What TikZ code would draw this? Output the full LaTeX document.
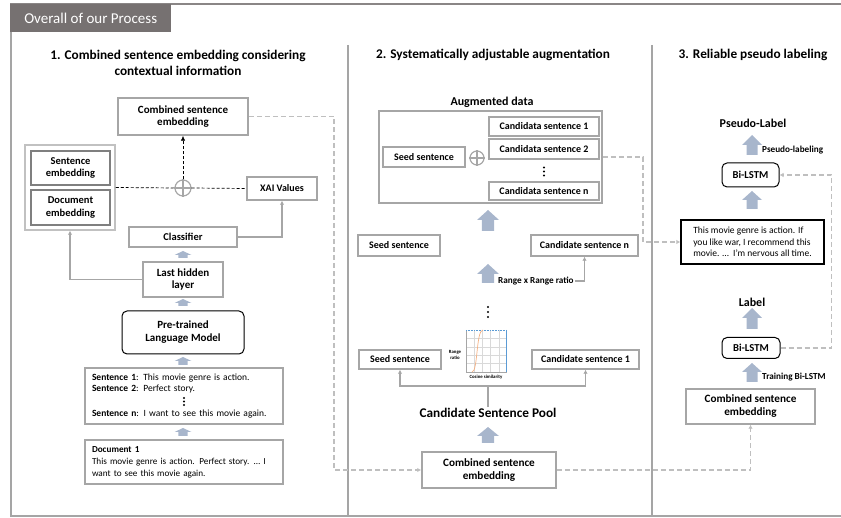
\documentclass[tikz,border=0pt]{standalone}
\usepackage{fontspec}
\setmainfont{Carlito}
\usetikzlibrary{arrows.meta}
\definecolor{boxgray}{RGB}{166,166,166}
\definecolor{darkbox}{RGB}{127,127,127}
\definecolor{framegray}{RGB}{165,165,165}
\definecolor{tabgray}{RGB}{118,113,113}
\definecolor{blockc}{RGB}{168,182,204}
\definecolor{dashgray}{RGB}{191,191,191}
\definecolor{chartblue}{RGB}{91,155,213}
\definecolor{chartorange}{RGB}{244,177,131}
\newcommand{\blkup}[5]{%
  \fill[blockc] ({#1-#4*0.55},#2) -- ({#1-#4*0.55},{#3+#5}) -- ({#1-#4},{#3+#5}) -- (#1,#3)
   -- ({#1+#4},{#3+#5}) -- ({#1+#4*0.55},{#3+#5}) -- ({#1+#4*0.55},#2) -- cycle;}
\tikzset{
  gbox/.style={draw=boxgray, line width=1.5pt, fill=white, align=center, inner sep=0pt,
    font=\bfseries\fontsize{10}{12}\selectfont},
  dbox/.style={gbox, draw=darkbox, font=\bfseries\fontsize{10.5}{12.5}\selectfont},
  rbox/.style={draw=black, line width=1pt, rounded corners=5pt, fill=white, align=center,
    inner sep=0pt, font=\bfseries\fontsize{11}{13}\selectfont},
  tbox/.style={draw=boxgray, line width=1.5pt, fill=white, align=left, inner xsep=7pt,
    inner ysep=0pt, text width=184pt},
  gl/.style={draw=boxgray, line width=1.2pt},
  gdash/.style={draw=dashgray, line width=1.5pt, dash pattern=on 5pt off 3pt},
  kdash/.style={draw=black, line width=0.7pt, dash pattern=on 3pt off 2pt},
  opl/.style={circle, draw=boxgray, line width=1.2pt, minimum size=#1, inner sep=0pt},
  sectitle/.style={font=\bfseries\fontsize{13.3}{16.5}\selectfont, align=center},
  lbl/.style={font=\bfseries\fontsize{12}{14}\selectfont},
  smalllbl/.style={font=\bfseries\fontsize{9.2}{11}\selectfont, inner sep=1pt},
  bigbox/.style={gbox, font=\bfseries\fontsize{11.2}{13}\selectfont},
}
\begin{document}
\begin{tikzpicture}[x=1pt,y=-1pt,>={Latex[length=4pt,width=4.5pt]}]
\useasboundingbox (0,0) rectangle (841,518);
% frame
\draw[framegray, line width=1.2pt] (11,30) -- (11,516) -- (841,516);
\draw[tabgray!85, line width=2pt] (10,4) -- (841,4);
\node[fill=tabgray, minimum width=161, minimum height=28, anchor=north west, inner sep=0pt,
  text=white, font=\fontsize{15}{17}\selectfont] (tab) at (10,4) {Overall of our Process};
\draw[framegray, line width=1.2pt] (348,45) -- (348,516);
\draw[framegray, line width=1.2pt] (652,45) -- (652,516);

% titles
\node[sectitle] (t1) at (178,63) {1. Combined sentence embedding considering\\contextual information};
\node[sectitle] (t2) at (493,55) {2. Systematically adjustable augmentation};
\node[sectitle] (t3) at (753,55) {3. Reliable pseudo labeling};

% ---------- section 1
\node[bigbox, minimum width=130, minimum height=37, font=\bfseries\fontsize{11}{12.5}\selectfont] (cse1) at (183,116.5) {Combined sentence\\embedding};
\node[draw=boxgray!70, line width=1.5pt, minimum width=90, minimum height=85, inner sep=0pt] (grp) at (70,187.5) {};
\node[dbox, minimum width=79, minimum height=34] (sent) at (70.5,168) {Sentence\\embedding};
\node[dbox, minimum width=79, minimum height=35] (doc) at (70.5,207.5) {Document\\embedding};
\node[opl=16] (op1) at (183,188) {};
\draw[boxgray, line width=1.2pt] (op1.north) -- (op1.south) (op1.west) -- (op1.east);
\node[gbox, minimum width=70, minimum height=23] (xai) at (282,188.5) {XAI Values};
\node[gbox, minimum width=108, minimum height=20, font=\bfseries\fontsize{10.5}{12}\selectfont] (clf) at (183,237) {Classifier};
\node[gbox, minimum width=80, minimum height=35, font=\bfseries\fontsize{11}{12.5}\selectfont] (lhl) at (183,279.5) {Last hidden\\layer};
\node[rbox, minimum width=122, minimum height=43] (plm) at (183,332.5) {Pre-trained\\Language Model};
\node[tbox, minimum height=56, font=\fontsize{9.5}{11}\selectfont] (sents) at (184,396)
 {\textbf{Sentence 1}: This movie genre is action.\\
  \textbf{Sentence 2}: Perfect story.\\[14pt]
  \textbf{Sentence n}: I want to see this movie again.};
\fill (184,398) circle (1.1pt) (184,401.5) circle (1.1pt) (184,405) circle (1.1pt);
\node[tbox, minimum height=44, font=\fontsize{9.2}{12}\selectfont] (docb) at (184,462)
 {\textbf{Document 1}\\
  \makebox[184pt][l]{This movie genre is action. Perfect story. … I}\\
  want to see this movie again.};
\blkup{183}{258}{251}{8.5}{4}
\blkup{183}{306}{299}{8.5}{4}
\blkup{183}{365}{357}{8.5}{4}
\blkup{183}{436}{428}{8.5}{4}

% ---------- section 2
\node[lbl] (augl) at (492,102) {Augmented data};
\node[draw=boxgray, line width=1.5pt, minimum width=223, minimum height=92, inner sep=0pt] (aug) at (490.5,157) {};
\node[gbox, minimum width=82, minimum height=20] (seed1) at (424,157) {Seed sentence};
\node[opl=14] (op2) at (477,158) {};
\draw[boxgray, line width=1.2pt] (op2.north) -- (op2.south) (op2.west) -- (op2.east);
\node[gbox, minimum width=110, minimum height=19] (ca1) at (544,126.5) {Candidata sentence 1};
\node[gbox, minimum width=110, minimum height=20] (ca2) at (544,149) {Candidata sentence 2};
\fill (544,167.5) circle (1.1pt) (544,171.5) circle (1.1pt) (544,175.5) circle (1.1pt);
\node[gbox, minimum width=110, minimum height=18] (can) at (544,191) {Candidata sentence n};
\blkup{488}{231}{210}{11}{10}
\node[gbox, minimum width=82, minimum height=21] (seed2) at (399,245.5) {Seed sentence};
\node[gbox, minimum width=107, minimum height=21] (candn) at (584.5,245.5) {Candidate sentence n};
\blkup{488}{283}{264}{11}{10}
\node[smalllbl, anchor=west] (rl) at (497,281) {Range x Range ratio};
\fill (488,307) circle (1.2pt) (488,312) circle (1.2pt) (488,317) circle (1.2pt);
% chart
\foreach \i in {1,...,4} {\draw[gray!30, line width=0.4pt] ({466+\i*8.2},330) -- ({466+\i*8.2},372);}
\foreach \j in {1,...,4} {\draw[gray!30, line width=0.4pt] (466,{330+\j*8.4}) -- (507,{330+\j*8.4});}
\draw[gray!70, line width=0.5pt] (466,330) -- (466,372) -- (507,372);
\draw[chartblue, line width=0.6pt] (506,330) -- (506,372);
\draw[chartblue, line width=0.6pt, densely dotted] (466,330) -- (506,330);
\draw[chartorange, line width=0.7pt] (472,372) .. controls (478,372) and (476,330) .. (483,330);
\node[font=\bfseries\fontsize{4.8}{5.8}\selectfont, align=center, inner sep=0pt] (rr) at (455,355) {Range\\ratio};
\node[font=\bfseries\fontsize{4.8}{5.8}\selectfont, inner sep=0pt] (cs) at (486,377) {Cosine similarity};
\node[gbox, minimum width=82, minimum height=19] (seed3) at (400,359.5) {Seed sentence};
\node[gbox, minimum width=107, minimum height=19] (cand1) at (585.5,359.5) {Candidate sentence 1};
\node[font=\bfseries\fontsize{13.3}{15}\selectfont, inner sep=1pt] (pool) at (488,413) {Candidate Sentence Pool};
\coordinate (tj) at (488,386);
\blkup{488}{443}{427}{11}{9}
\node[bigbox, minimum width=134, minimum height=36] (cse2) at (489,470) {Combined sentence\\embedding};

% ---------- section 3
\node[lbl] (pl) at (753,123) {Pseudo-Label};
\blkup{752}{155}{135}{10}{10}
\node[smalllbl, anchor=west] (pll) at (761,150) {Pseudo-labeling};
\node[rbox, minimum width=57, minimum height=24, font=\bfseries\fontsize{10.6}{12}\selectfont] (bil1) at (750.5,175) {Bi-LSTM};
\blkup{752}{209}{191}{10}{9}
\node[draw=black, line width=1.3pt, fill=white, minimum width=143, minimum height=44, align=left,
  inner sep=0pt, font=\fontsize{9.5}{11.7}\selectfont] (txt) at (752.5,242)
  {This movie genre is action. If\\you like war, I recommend this\\movie. …\ \ I’m nervous all time.};
\node[lbl] (lab) at (752,302) {Label};
\blkup{752}{329}{308}{10}{10}
\node[rbox, minimum width=58, minimum height=21, font=\bfseries\fontsize{10.6}{12}\selectfont] (bil2) at (751,348) {Bi-LSTM};
\blkup{752}{382}{363}{10}{9}
\node[smalllbl, anchor=west] (tl) at (761,377) {Training Bi-LSTM};
\node[bigbox, minimum width=129, minimum height=35] (cse3) at (750.5,406.5) {Combined sentence\\embedding};

% ---------- connectors
\draw[gl,->] (lhl.west) -| (grp.south);
\draw[gl,->] (clf.east) -| (xai.south);
\draw[kdash] (grp.east) -- (op1.west);
\draw[kdash] (op1.east) -- (xai.west);
\draw[kdash,-{Latex[length=5pt,width=4.5pt]}] (op1.north) -- (cse1.south);
\draw[gdash,->] (cse1.east) -- ++(85,0) |- (cse2.west);
\draw[gl,->] (rl.east) -| (candn.south);
\draw[gl] (pool.north) -- (tj);
\draw[gl,->] (tj) -| (seed3.south);
\draw[gl,->] (tj) -| (cand1.south);
\draw[gdash,->] (aug.east) -- ++(40,0) |- (txt.west);
\draw[gdash,->] (cse2.east) -| (cse3.south);
\draw[gdash,->] (bil2.east) -- ++(51,0) |- (bil1.east);
\end{tikzpicture}
\end{document}
